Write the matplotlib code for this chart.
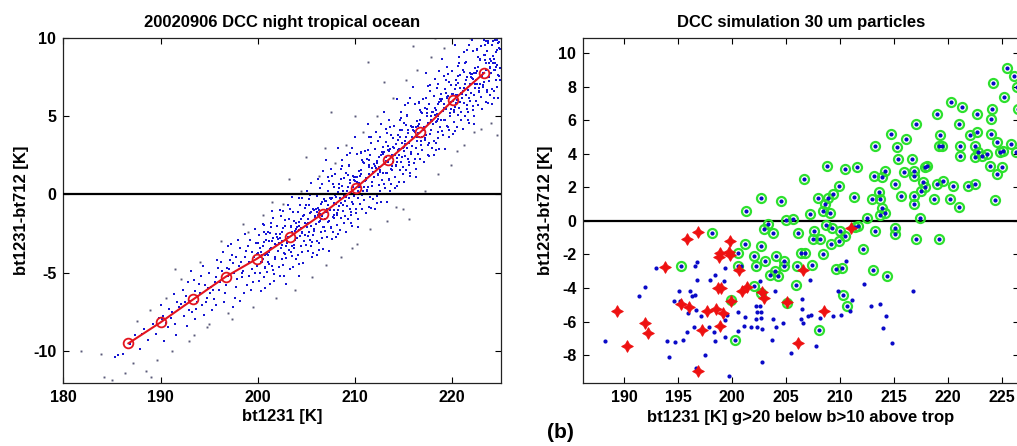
import numpy as np
import matplotlib
matplotlib.use("Agg")
import matplotlib.pyplot as plt

plt.rcParams['font.family'] = ['Liberation Sans', 'DejaVu Sans']
plt.rcParams['font.weight'] = 'bold'
plt.rcParams['axes.unicode_minus'] = False

# ---------------- left panel data ----------------
line_x = [186.7, 190.0, 193.35, 196.7, 199.96, 203.3, 206.7, 210.1, 213.4, 216.7, 220.1, 223.3]
line_y = [-9.53, -8.19, -6.72, -5.27, -4.10, -2.71, -1.22, 0.42, 2.19, 3.97, 6.03, 7.78]

cloud_blue = [
    (186.9,-9.6),(187.4,-9.0),(187.9,-9.9),(188.3,-8.6),(188.7,-9.3),(189.2,-8.3),(189.5,-8.9),(189.8,-7.9),
    (185.3,-10.4),(185.6,-10.3),(186.1,-10.2),(188.1,-8.9),
    (190.3,-7.8),(190.8,-8.5),(190.1,-7.1),(190.6,-8.2),(190.9,-7.3),(190.4,-9.4),(190.2,-8.0),
    (191.2,-7.5),(191.5,-8.3),(191.7,-6.9),(191.1,-7.9),(191.9,-7.2),(191.4,-6.4),(191.6,-9.0),
    (192.1,-7.0),(192.4,-7.8),(192.6,-6.5),(192.9,-7.4),(192.3,-6.1),(192.7,-8.4),(192.5,-6.9),(192.8,-5.6),
    (193.0,-6.8),(193.2,-7.5),(193.5,-6.2),(193.8,-6.9),(193.4,-5.5),(193.6,-8.0),(193.9,-6.5),(193.1,-4.9),(193.7,-7.3),
    (194.1,-6.3),(194.3,-7.1),(194.6,-5.8),(194.8,-6.6),(194.2,-5.2),(194.5,-7.7),(194.9,-6.0),(194.4,-4.6),(194.7,-6.9),(194.0,-5.7),
    (195.2,-5.9),(195.5,-6.7),(195.7,-5.3),(195.1,-6.3),(195.9,-4.7),(195.3,-7.4),(195.6,-5.6),(195.8,-4.2),(195.4,-6.1),(195.0,-5.0),(195.7,-7.1),
    (196.1,-5.6),(196.3,-4.9),(196.6,-6.3),(196.9,-5.2),(196.2,-4.3),(196.5,-6.9),(196.8,-4.7),(196.4,-3.7),(196.7,-5.8),(196.0,-6.1),(196.3,-5.4),(196.9,-3.3),
    (197.2,-5.1),(197.5,-4.4),(197.8,-5.9),(197.0,-4.8),(197.4,-3.9),(197.7,-6.6),(197.1,-4.2),(197.9,-5.4),(197.3,-3.2),(197.6,-5.0),(197.5,-7.2),(197.8,-4.0),
    (198.1,-4.6),(198.4,-5.3),(198.7,-4.0),(198.2,-3.4),(198.9,-5.8),(198.5,-4.9),(198.0,-2.9),(198.6,-6.3),(198.3,-4.3),(198.8,-3.6),(198.4,-5.0),(198.7,-2.5),(198.2,-6.8),
    (199.1,-4.3),(199.4,-3.7),(199.7,-5.0),(199.2,-2.9),(199.9,-4.6),(199.5,-5.6),(199.0,-3.3),(199.6,-4.0),(199.3,-6.1),(199.8,-3.1),(199.4,-4.8),(199.7,-2.2),(199.1,-5.2),(199.9,-3.8),
    (200.2,-4.0),(200.5,-3.3),(200.8,-4.7),(200.1,-2.6),(200.6,-5.3),(200.3,-3.7),(200.9,-2.9),(200.4,-4.3),(200.7,-6.0),(200.0,-3.1),(200.5,-1.9),(200.8,-3.9),(200.2,-5.0),(200.6,-2.4),
    (201.3,-3.5),(201.6,-2.8),(201.1,-4.3),(201.8,-3.2),(201.4,-2.1),(201.7,-5.1),(201.0,-3.8),(201.5,-4.6),(201.9,-2.5),(201.2,-3.0),(201.6,-1.5),(201.3,-5.7),(201.8,-4.0),(201.4,-3.4),(201.1,-2.4),
    (202.2,-3.1),(202.5,-2.4),(202.8,-3.8),(202.0,-2.0),(202.6,-4.5),(202.3,-2.8),(202.9,-3.3),(202.4,-1.4),(202.7,-5.2),(202.1,-3.6),(202.5,-4.1),(202.8,-2.0),(202.3,-1.0),(202.6,-3.0),(202.9,-5.7),
    (203.1,-2.7),(203.4,-2.0),(203.7,-3.4),(203.2,-1.6),(203.9,-4.1),(203.5,-2.4),(203.0,-3.1),(203.6,-1.1),(203.3,-4.8),(203.8,-2.9),(203.4,-3.7),(203.7,-1.7),(203.1,-0.7),(203.5,-3.3),(203.9,-2.2),
    (204.2,-2.3),(204.5,-1.6),(204.8,-3.0),(204.1,-1.1),(204.6,-3.7),(204.3,-2.0),(204.9,-2.6),(204.4,-0.7),(204.7,-4.4),(204.0,-2.8),(204.5,-3.3),(204.8,-1.3),(204.2,-0.2),(204.6,-2.4),(204.3,-5.2),(204.9,-1.8),
    (205.1,-1.9),(205.4,-1.2),(205.7,-2.6),(205.0,-0.7),(205.5,-3.3),(205.2,-1.6),(205.8,-2.2),(205.3,-0.3),(205.6,-4.0),(205.9,-1.4),(205.4,-2.9),(205.7,-0.9),(205.1,0.2),(205.5,-2.0),(205.2,-3.6),(205.8,-1.0),(205.3,-2.4),
    (206.2,-1.3),(206.5,-0.6),(206.8,-2.1),(206.1,-0.1),(206.6,-2.8),(206.3,-1.0),(206.9,-1.6),(206.4,0.4),(206.7,-3.5),(206.0,-1.9),(206.5,-2.4),(206.8,-0.3),(206.2,1.0),(206.6,-1.4),(206.3,-3.1),(206.9,-0.4),(206.4,-1.7),(206.7,1.5),(206.1,-3.9),
    (207.0,-0.4),(207.3,-1.7),(207.7,0.7),(207.9,-1.0),(207.4,0.0),(207.1,-2.7),(207.6,1.2),(207.8,-1.3),(207.2,-0.7),(207.5,-2.1),(207.9,0.5),(207.3,-3.6),(207.6,-0.2),(207.0,2.2),(207.8,-1.5),(207.4,-1.0),(207.2,1.1),(207.7,-2.4),(207.5,-0.3),
    (208.1,-0.6),(208.4,0.7),(208.6,-1.5),(208.8,0.2),(208.3,-1.0),(208.0,1.3),(208.5,-2.3),(208.9,-0.1),(208.7,2.2),(208.2,-1.3),(208.4,0.4),(208.8,-0.7),(208.1,-2.7),(208.6,1.0),(208.3,3.0),(208.9,-1.8),(208.5,-0.2),(208.2,-1.2),(208.7,1.8),
    (209.2,0.2),(209.5,0.9),(209.8,-0.6),(209.1,1.4),(209.6,-1.3),(209.3,0.5),(209.9,-0.1),(209.4,1.9),(209.7,-2.0),(209.0,-0.4),(209.5,-0.9),(209.8,1.2),(209.2,2.5),(209.6,0.1),(209.3,-1.6),(209.9,1.1),(209.4,-0.2),(209.7,3.0),(209.1,-2.4),
    (210.0,1.1),(210.3,-0.2),(210.7,2.2),(210.9,0.5),(210.4,1.5),(210.1,-1.2),(210.6,2.7),(210.8,0.2),(210.2,0.8),(210.5,-0.6),(210.9,2.0),(210.3,-2.1),(210.6,1.3),(210.0,3.7),(210.8,0.0),(210.4,0.5),(210.2,2.6),(210.7,-0.9),(210.5,1.2),
    (211.1,0.9),(211.4,2.2),(211.6,0.0),(211.8,1.7),(211.3,0.5),(211.0,2.8),(211.5,-0.8),(211.9,1.4),(211.7,3.7),(211.2,0.2),(211.4,1.9),(211.8,0.8),(211.1,-1.2),(211.6,2.5),(211.3,4.5),(211.9,-0.3),(211.5,1.3),(211.2,0.3),(211.7,3.3),
    (212.2,1.7),(212.5,2.4),(212.8,0.9),(212.1,2.9),(212.6,0.2),(212.3,2.0),(212.9,1.4),(212.4,3.4),(212.7,-0.5),(212.0,1.1),(212.5,0.6),(212.8,2.7),(212.2,4.0),(212.6,1.6),(212.3,-0.1),(212.9,2.6),(212.4,1.3),(212.7,4.5),(212.1,-0.9),
    (213.0,2.7),(213.3,1.4),(213.7,3.8),(213.9,2.1),(213.4,3.1),(213.1,0.4),(213.6,4.3),(213.8,1.8),(213.2,2.4),(213.5,1.0),(213.9,3.6),(213.3,-0.5),(213.6,2.9),(213.0,5.3),(213.8,1.6),(213.4,2.1),(213.2,4.2),(213.7,0.7),(213.5,2.8),
    (214.1,2.5),(214.4,3.8),(214.6,1.6),(214.8,3.3),(214.3,2.1),(214.0,4.4),(214.5,0.8),(214.9,3.0),(214.7,5.3),(214.2,1.8),(214.4,3.5),(214.8,2.4),(214.1,0.4),(214.6,4.1),(214.3,6.1),(214.9,1.3),(214.5,2.9),(214.2,1.9),(214.7,4.9),
    (215.2,3.4),(215.5,4.1),(215.8,2.6),(215.1,4.6),(215.6,1.9),(215.3,3.7),(215.9,3.1),(215.4,5.1),(215.7,1.2),(215.0,2.8),(215.5,2.3),(215.8,4.4),(215.2,5.7),(215.6,3.3),(215.3,1.6),(215.9,4.3),(215.4,3.0),(215.7,6.2),(215.1,0.8),
    (216.0,4.3),(216.3,3.0),(216.7,5.4),(216.9,3.7),(216.4,4.7),(216.1,2.0),(216.6,5.9),(216.8,3.4),(216.2,4.0),(216.5,2.6),(216.9,5.2),(216.3,1.1),(216.6,4.5),(216.0,6.9),(216.8,3.2),(216.4,3.7),(216.2,5.8),(216.7,2.3),(216.5,4.4),
    (217.1,4.2),(217.4,5.5),(217.6,3.3),(217.8,5.0),(217.3,3.8),(217.0,6.1),(217.5,2.5),(217.9,4.7),(217.7,7.0),(217.2,3.5),(217.4,5.2),(217.8,4.1),(217.1,2.1),(217.6,5.8),(217.3,7.8),(217.9,3.0),(217.5,4.6),(217.2,3.6),(217.7,6.6),
    (218.2,5.1),(218.5,5.8),(218.8,4.3),(218.1,6.3),(218.6,3.6),(218.3,5.4),(218.9,4.8),(218.4,6.8),(218.7,2.9),(218.0,4.5),(218.5,4.0),(218.8,6.1),(218.2,7.4),(218.6,5.0),(218.3,3.3),(218.9,6.0),(218.4,4.7),(218.7,7.9),(218.1,2.5),
    (219.0,6.1),(219.3,4.8),(219.7,7.2),(219.9,5.5),(219.4,6.5),(219.1,3.8),(219.6,7.7),(219.8,5.2),(219.2,5.8),(219.5,4.4),(219.9,7.0),(219.3,2.9),(219.6,6.3),(219.0,8.7),(219.8,5.0),(219.4,5.5),(219.2,7.6),(219.7,4.1),(219.5,6.2),
    (220.1,6.0),(220.4,7.3),(220.6,5.1),(220.8,6.8),(220.3,5.6),(220.0,7.9),(220.5,4.3),(220.9,6.5),(220.7,8.8),(220.2,5.3),(220.4,7.0),(220.8,5.9),(220.1,3.9),(220.6,7.6),(220.3,9.6),(220.9,4.8),(220.5,6.4),(220.2,5.4),(220.7,8.4),
    (221.2,6.8),(221.5,7.5),(221.8,6.0),(221.1,8.0),(221.6,5.3),(221.3,7.1),(221.9,6.5),(221.4,8.5),(221.7,4.6),(221.0,6.2),(221.5,5.7),(221.8,7.8),(221.2,9.1),(221.6,6.7),(221.3,5.0),(221.9,7.7),(221.4,6.4),(221.7,9.6),(221.1,4.2),
    (222.0,7.7),(222.3,6.4),(222.7,8.8),(222.9,7.1),(222.4,8.1),(222.1,5.4),(222.6,9.3),(222.8,6.8),(222.2,7.4),(222.5,6.0),(222.9,8.6),(222.3,4.5),(222.6,7.9),(222.0,9.9),(222.8,6.6),(222.4,7.1),(222.2,9.2),(222.7,5.7),(222.5,7.8),
    (223.1,7.6),(223.4,8.9),(223.6,6.7),(223.8,8.4),(223.3,7.2),(223.0,9.5),(223.5,5.9),(223.9,8.1),(223.7,9.8),(223.2,6.9),(223.4,8.6),(223.8,7.5),(223.1,5.5),(223.6,9.2),(223.3,9.9),(223.9,6.4),(223.5,8.0),(223.2,7.0),(223.7,9.7),
    (224.2,8.4),(224.5,9.1),(224.8,7.6),(224.1,9.6),(224.6,6.9),(224.3,8.7),(224.9,8.1),(224.4,9.9),(224.7,6.2),(224.0,7.8),(224.5,7.3),(224.8,9.4),(224.2,9.8),(224.6,8.3),(224.3,6.6),(224.9,9.3),(224.4,8.0),(224.7,9.7),(224.1,5.8),
]

cloud_blue_core = [
    (200.05,-3.75),(200.35,-4.35),(200.65,-3.05),(200.95,-4.95),(200.25,-3.45),(200.55,-4.15),(200.85,-2.55),(200.15,-5.55),(200.45,-3.85),(200.75,-4.65),(200.6,-1.95),(200.3,-6.15),
    (201.15,-3.65),(201.45,-2.95),(201.75,-4.15),(201.25,-2.45),(201.55,-4.85),(201.85,-3.25),(201.05,-3.85),(201.35,-1.85),(201.65,-5.55),(201.95,-2.75),(201.5,-1.05),(201.2,-4.45),
    (202.05,-2.85),(202.35,-3.45),(202.65,-2.15),(202.95,-4.05),(202.25,-2.55),(202.55,-3.25),(202.85,-1.65),(202.15,-4.65),(202.45,-2.95),(202.75,-3.75),(202.6,-1.05),(202.3,-5.25),
    (203.15,-2.75),(203.45,-2.05),(203.75,-3.25),(203.25,-1.55),(203.55,-3.95),(203.85,-2.35),(203.05,-2.95),(203.35,-0.95),(203.65,-4.65),(203.95,-1.85),(203.5,-0.15),(203.2,-3.55),
    (204.05,-2.05),(204.35,-2.65),(204.65,-1.35),(204.95,-3.25),(204.25,-1.75),(204.55,-2.45),(204.85,-0.85),(204.15,-3.85),(204.45,-2.15),(204.75,-2.95),(204.6,-0.25),(204.3,-4.45),
    (205.15,-1.85),(205.45,-1.15),(205.75,-2.35),(205.25,-0.65),(205.55,-3.05),(205.85,-1.45),(205.05,-2.05),(205.35,-0.05),(205.65,-3.75),(205.95,-0.95),(205.5,0.75),(205.2,-2.65),
    (206.05,-1.15),(206.35,-1.75),(206.65,-0.45),(206.95,-2.35),(206.25,-0.85),(206.55,-1.55),(206.85,0.05),(206.15,-2.95),(206.45,-1.25),(206.75,-2.05),(206.6,0.65),(206.3,-3.55),
    (207.15,-0.95),(207.45,-0.25),(207.75,-1.45),(207.25,0.25),(207.55,-2.15),(207.85,-0.55),(207.05,-1.15),(207.35,0.85),(207.65,-2.85),(207.95,-0.05),(207.5,1.65),(207.2,-1.75),
    (208.05,-0.15),(208.35,-0.75),(208.65,0.55),(208.95,-1.35),(208.25,0.15),(208.55,-0.55),(208.85,1.05),(208.15,-1.95),(208.45,-0.25),(208.75,-1.05),(208.6,1.65),(208.3,-2.55),
    (209.15,0.05),(209.45,0.75),(209.75,-0.45),(209.25,1.25),(209.55,-1.15),(209.85,0.45),(209.05,-0.15),(209.35,1.85),(209.65,-1.85),(209.95,0.95),(209.5,2.65),(209.2,-0.75),
    (210.05,0.85),(210.35,0.25),(210.65,1.55),(210.95,-0.35),(210.25,1.15),(210.55,0.45),(210.85,2.05),(210.15,-0.95),(210.45,0.75),(210.75,-0.05),(210.6,2.65),(210.3,-1.55),
    (211.15,1.05),(211.45,1.75),(211.75,0.55),(211.25,2.25),(211.55,-0.15),(211.85,1.45),(211.05,0.85),(211.35,2.85),(211.65,-0.85),(211.95,1.95),(211.5,3.65),(211.2,0.25),
    (212.05,1.85),(212.35,1.25),(212.65,2.55),(212.95,0.65),(212.25,2.15),(212.55,1.45),(212.85,3.05),(212.15,0.05),(212.45,1.75),(212.75,0.95),(212.6,3.65),(212.3,-0.55),
    (213.15,2.15),(213.45,2.85),(213.75,1.65),(213.25,3.35),(213.55,0.95),(213.85,2.55),(213.05,1.95),(213.35,3.95),(213.65,0.25),(213.95,3.05),(213.5,4.75),(213.2,1.35),
    (214.05,2.95),(214.35,2.35),(214.65,3.65),(214.95,1.75),(214.25,3.25),(214.55,2.55),(214.85,4.15),(214.15,1.15),(214.45,2.85),(214.75,2.05),(214.6,4.75),(214.3,0.55),
    (215.15,3.25),(215.45,3.95),(215.75,2.75),(215.25,4.45),(215.55,2.05),(215.85,3.65),(215.05,3.05),(215.35,5.05),(215.65,1.35),(215.95,4.15),(215.5,5.85),(215.2,2.45),
    (216.05,4.05),(216.35,3.45),(216.65,4.75),(216.95,2.85),(216.25,4.35),(216.55,3.65),(216.85,5.25),(216.15,2.25),(216.45,3.95),(216.75,3.15),(216.6,5.85),(216.3,1.65),
    (217.15,4.35),(217.45,5.05),(217.75,3.85),(217.25,5.55),(217.55,3.15),(217.85,4.75),(217.05,4.15),(217.35,6.15),(217.65,2.45),(217.95,5.25),(217.5,6.95),(217.2,3.55),
    (218.05,5.25),(218.35,4.65),(218.65,5.95),(218.95,4.05),(218.25,5.55),(218.55,4.85),(218.85,6.45),(218.15,3.45),(218.45,5.15),(218.75,4.35),(218.6,7.05),(218.3,2.85),
    (219.15,5.55),(219.45,6.25),(219.75,5.05),(219.25,6.75),(219.55,4.35),(219.85,5.95),(219.05,5.35),(219.35,7.35),(219.65,3.65),(219.95,6.45),(219.5,8.15),(219.2,4.75),
    (220.05,6.45),(220.35,5.85),(220.65,7.15),(220.95,5.25),(220.25,6.75),(220.55,6.05),(220.85,7.65),(220.15,4.65),(220.45,6.35),(220.75,5.55),(220.6,8.25),(220.3,4.05),
    (221.15,6.65),(221.45,7.35),(221.75,6.15),(221.25,7.85),(221.55,5.45),(221.85,7.05),(221.05,6.45),(221.35,8.45),(221.65,4.75),(221.95,7.55),(221.5,9.25),(221.2,5.85),
    (222.05,7.45),(222.35,6.85),(222.65,8.15),(222.95,6.25),(222.25,7.75),(222.55,7.05),(222.85,8.65),(222.15,5.65),(222.45,7.35),(222.75,6.55),(222.6,9.25),(222.3,5.05),
    (223.15,7.75),(223.45,8.45),(223.75,7.25),(223.25,8.95),(223.55,6.55),(223.85,8.15),(223.05,7.55),(223.35,9.55),(223.65,5.85),(223.95,8.65),(223.5,9.85),(223.2,6.95),
    (224.05,8.55),(224.35,7.95),(224.65,9.25),(224.95,7.35),(224.25,8.85),(224.55,8.15),(224.85,9.75),(224.15,6.75),(224.45,8.45),(224.75,7.65),(224.6,9.9),(224.3,6.15),
]

cloud_gray = [
    (181.8,-10.0),(183.9,-10.2),(184.2,-11.7),(185.0,-11.9),(186.3,-11.4),(187.2,-10.8),(188.5,-11.3),(189.6,-10.6),
    (189.0,-11.7),(187.6,-8.1),(188.9,-7.4),(190.6,-6.6),(191.2,-10.0),(192.1,-5.4),(193.4,-9.0),(194.1,-4.3),
    (195.0,-8.3),(196.2,-3.0),(197.4,-8.0),(198.5,-1.9),(199.5,-7.2),(200.5,-1.3),(201.9,-6.6),(202.6,-0.6),
    (203.8,-6.1),(204.5,0.2),(205.6,-5.3),(206.3,1.2),(207.0,-4.5),(207.5,5.3),(208.0,2.0),(208.6,-4.0),
    (209.1,3.2),(210.2,-3.2),(210.8,4.0),(211.3,8.5),(211.6,-2.2),(212.3,5.0),(213.3,-1.7),(213.9,6.2),
    (214.9,-0.9),(215.3,7.3),(215.6,-1.6),(216.4,8.0),(217.2,0.2),(217.8,8.8),(218.6,1.3),(219.2,9.4),
    (219.9,1.9),(220.5,2.8),(221.2,3.2),(222.3,4.0),(223.0,4.2),(224.0,4.6),(224.6,3.8),(221.8,10.0),
    (213.0,7.2),(210.0,5.0),(206.9,3.0),(214.2,-0.8),(216.0,9.5),(209.7,-3.4),(218.2,10.0),(205.0,2.4),
    (203.2,1.0),(201.5,-0.5),(199.0,-2.4),(196.9,-7.6),(194.8,-8.5),(192.9,-9.4),(191.5,-4.8),
]

# ---------------- right panel data ----------------
green_pts = [
    (225.5,9.1),(226.1,8.65),(226.4,8.0),(224.2,8.2),(225.2,7.4),(226.5,6.7),(220.3,7.1),(221.3,6.8),(217.1,5.8),
    (219.0,6.4),(221.0,5.8),(222.7,6.4),(224.0,6.1),(224.1,6.7),(214.7,5.2),(216.1,4.9),(219.3,5.1),(222.1,5.1),
    (222.7,5.3),(224.0,5.2),(225.9,4.6),(226.3,4.1),(213.3,4.5),(215.3,4.4),(219.2,4.5),(219.5,4.5),(221.1,4.5),
    (222.5,4.5),(224.6,4.7),(222.8,4.1),(223.2,3.9),(223.6,4.0),(224.8,4.1),(225.1,4.15),(222.5,3.8),(221.1,3.9),
    (215.4,3.7),(216.7,3.7),(223.9,3.3),(225.0,3.2),(224.6,2.8),(217.9,3.2),(218.1,3.3),(216.9,3.0),(216.9,2.7),
    (214.2,3.0),(213.2,2.7),(213.9,2.6),(215.9,2.9),(210.5,3.1),(211.6,3.2),(208.8,3.3),(206.7,2.5),(209.9,2.1),
    (209.4,1.6),(215.1,2.2),(217.7,2.3),(217.9,2.0),(219.0,2.2),(219.6,2.4),(220.5,2.1),(221.9,2.1),(222.5,2.2),
    (217.5,1.8),(216.9,1.5),(215.7,1.5),(213.6,1.75),(211.3,1.4),(212.95,1.3),(213.7,1.3),(218.7,1.3),(220.2,1.3),
    (224.4,1.25),(221.0,0.85),(216.9,1.0),(213.9,0.75),(214.2,0.5),(213.7,0.35),(217.4,0.2),(212.55,0.15),
    (208.0,1.35),(208.9,1.35),(208.6,1.0),(208.4,0.6),(209.1,0.45),(202.7,1.35),(204.5,1.2),(201.3,0.6),(207.2,0.4),
    (205.0,0.05),(205.7,0.1),(203.3,-0.2),(203.0,-0.5),(203.8,-0.7),(206.1,-0.7),(207.6,-0.6),(208.7,-0.25),
    (209.3,-0.4),(210.0,-0.6),(210.5,-0.9),(211.7,-0.3),(211.4,-0.35),(213.3,-0.6),(215.1,-0.4),(215.1,-0.75),
    (217.1,-1.05),(219.2,-1.1),(198.2,-0.7),(201.2,-1.4),(202.7,-1.5),(207.5,-1.1),(208.2,-1.1),(209.2,-1.4),
    (209.96,-1.2),(212.1,-1.7),(200.6,-1.9),(202.0,-2.1),(204.1,-2.1),(204.8,-2.4),(206.4,-1.9),(206.8,-1.9),
    (208.4,-2.0),(203.1,-2.4),(202.2,-2.7),(200.6,-2.7),(204.8,-2.7),(206.0,-2.7),(207.4,-2.6),(210.2,-2.8),
    (209.6,-2.85),(213.1,-2.9),(195.3,-2.7),(203.5,-3.2),(204.0,-3.0),(204.3,-3.3),(214.4,-3.3),(205.9,-3.8),
    (202.0,-3.9),(202.7,-4.3),(210.3,-4.4),(210.7,-5.1),(199.9,-4.7),(205.1,-4.9),(208.1,-6.5),(200.3,-7.1),
]

blue_pts = [
    (188.2,-7.15),(191.9,-3.96),(191.4,-4.46),(193.0,-2.83),(194.0,-7.15),(194.2,-8.1),(194.7,-7.2),(194.6,-4.76),
    (195.1,-4.16),(195.2,-4.8),(195.5,-7.1),(195.8,-6.6),(195.9,-5.5),(196.1,-4.2),(196.3,-4.5),(196.6,-4.4),
    (196.7,-5.3),(196.5,-6.3),(196.8,-3.5),(196.8,-2.47),(196.6,-2.7),(197.15,-5.7),(197.55,-8.0),(196.7,-8.76),
    (197.9,-6.3),(197.95,-3.5),(198.4,-3.2),(198.3,-6.6),(198.4,-7.15),(199.3,-3.6),(199.4,-2.8),(199.4,-5.9),
    (199.55,-5.6),(199.35,-6.9),(199.7,-9.25),(200.6,-5.44),(201.2,-5.75),(201.1,-6.27),(200.6,-6.55),(201.8,-6.3),
    (200.8,-2.7),(202.3,-5.45),(202.65,-5.45),(202.2,-5.85),(202.65,-5.8),(202.3,-6.3),(202.75,-6.47),(202.6,-3.6),
    (203.98,-4.2),(202.2,-5.08),(202.6,-5.08),(203.8,-5.85),(204.1,-6.3),(204.75,-6.1),(203.7,-7.1),(202.75,-8.4),
    (205.5,-7.9),(206.5,-4.66),(206.5,-5.26),(206.4,-5.85),(206.6,-6.1),(207.06,-5.7),(207.3,-5.6),(207.2,-3.5),
    (207.8,-7.46),(208.2,-5.8),(209.4,-5.7),(209.8,-4.2),(210.1,-5.6),(210.6,-2.37),(211.1,-4.7),(210.9,-5.4),
    (212.2,-3.77),(212.9,-5.08),(213.7,-4.95),(213.97,-6.4),(214.3,-5.7),(214.8,-7.3),(216.75,-4.16),
]

red_pts = [
    (189.35,-5.38),(190.3,-7.45),(191.9,-6.07),(192.2,-6.67),(193.8,-2.77),(195.25,-4.96),(195.99,-5.12),
    (195.86,-1.08),(196.85,-0.64),(196.85,-8.94),(197.25,-6.5),(197.7,-5.38),(198.55,-5.27),(198.7,-4.02),
    (198.95,-4.0),(198.86,-1.93),(198.8,-2.17),(198.86,-6.27),(199.2,-5.5),(199.8,-1.18),(199.7,-1.84),
    (199.8,-2.05),(199.9,-4.75),(200.7,-2.93),(200.9,-4.16),(201.4,-3.96),(202.75,-4.22),(203.0,-4.6),
    (205.06,-4.82),(206.6,-2.93),(208.5,-5.38),(206.1,-7.3),(211.0,-0.44),
]

left_xticks = [180, 190, 200, 210, 220]
left_yticks = [-10, -5, 0, 5, 10]
right_xticks = [190, 195, 200, 205, 210, 215, 220, 225]
right_yticks = [-8, -6, -4, -2, 0, 2, 4, 6, 8, 10]

W, H = 1017, 446
fig = plt.figure(figsize=(W / 100, H / 100), dpi=100)
top_px, bot_px = 38.3, 382.7
ax1 = fig.add_axes([63.3 / W, 1 - bot_px / H, (500.7 - 63.3) / W, (bot_px - top_px) / H])
ax2 = fig.add_axes([583.3 / W, 1 - bot_px / H, (1018.5 - 583.3) / W, (bot_px - top_px) / H])

# ---- left ----
cb = np.array(cloud_blue)
cc = np.array(cloud_blue_core)
cg = np.array(cloud_gray)
ax1.plot(cg[:, 0], cg[:, 1], 's', ms=1.4, mew=0, color='#5a5a78', zorder=2)
ax1.plot(cb[:, 0], cb[:, 1], 's', ms=1.9, mew=0, color='#1414d2', zorder=2)
ax1.plot(cc[:, 0], cc[:, 1], 's', ms=1.9, mew=0, color='#1a1ade', zorder=2)
ax1.axhline(0, color='black', lw=1.6, zorder=3)
ax1.plot(line_x, line_y, '-o', color='#e3141e', lw=1.5, ms=7, mfc='none', mew=1.3, zorder=4)
ax1.set_xlim(180, 225)
ax1.set_ylim(-12.05, 10)
ax1.set_xticks(left_xticks)
ax1.set_yticks(left_yticks)
ax1.set_title('20020906 DCC night tropical ocean', fontsize=12, fontweight='bold', pad=8)
ax1.set_xlabel('bt1231 [K]', fontsize=12, fontweight='bold', labelpad=3)
ax1.set_ylabel('bt1231-bt712 [K]', fontsize=12, fontweight='bold', labelpad=3)

# ---- right ----
gp = np.array(green_pts)
bp = np.array(blue_pts)
rp = np.array(red_pts)
ax2.axhline(0, color='black', lw=1.6, zorder=1)
ax2.plot(gp[:, 0], gp[:, 1], 'o', ms=6.5, mfc='none', mec='#2ee02e', mew=1.6, zorder=2)
ax2.plot(bp[:, 0], bp[:, 1], 'o', ms=3.0, mew=0, color='#0a0ac8', zorder=3)
ax2.plot(gp[:, 0], gp[:, 1], 'o', ms=3.0, mew=0, color='#0a0ac8', zorder=3)
ax2.plot(rp[:, 0], rp[:, 1], marker=(4, 1, 0), ls='none', ms=8.5, mew=0.6, color='#ee1111', zorder=4)
ax2.set_xlim(186.23, 226.55)
ax2.set_ylim(-9.65, 10.895)
ax2.set_xticks(right_xticks)
ax2.set_yticks(right_yticks)
ax2.set_title('DCC simulation 30 um particles', fontsize=12, fontweight='bold', pad=8)
ax2.set_xlabel('bt1231 [K] g>20 below b>10 above trop', fontsize=12, fontweight='bold', labelpad=4)
ax2.set_ylabel('bt1231-bt712 [K]', fontsize=12, fontweight='bold', labelpad=4)

for ax in (ax1, ax2):
    ax.tick_params(direction='in', length=4, width=0.8, top=True, right=True,
                   labelsize=11.5, pad=5, colors='black')
    for s in ax.spines.values():
        s.set_linewidth(0.9)
        s.set_color('#222222')

fig.text(560 / W, 1 - 433 / H, '(b)', fontsize=15, fontweight='bold', ha='center', va='center')

fig.savefig('out.png', dpi=100)
